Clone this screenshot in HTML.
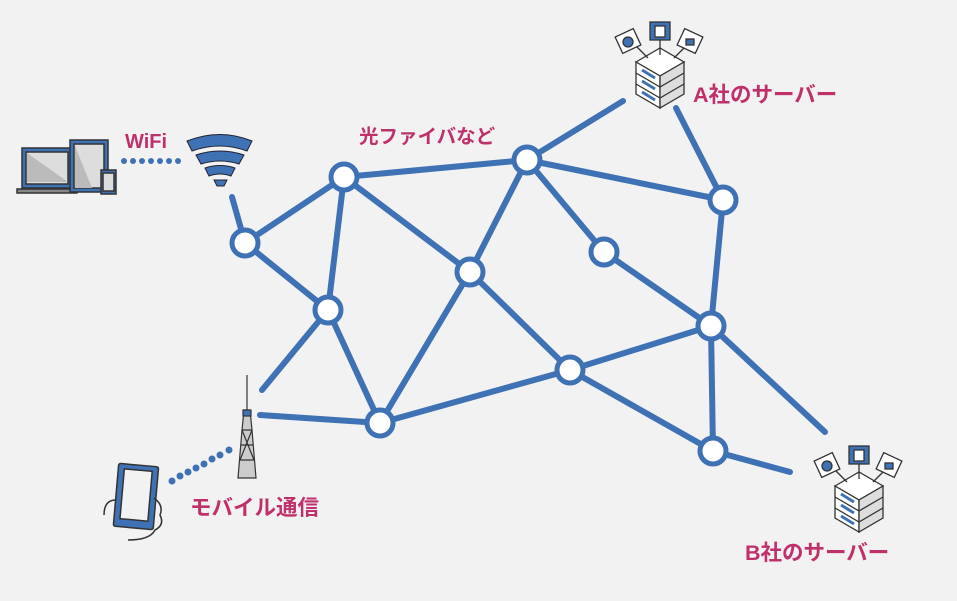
<!DOCTYPE html>
<html><head><meta charset="utf-8"><style>
body{margin:0;background:#f2f2f2;}
svg{display:block}
text{font-family:"Liberation Sans","Noto Sans CJK JP",sans-serif;fill:#c0306a;font-weight:bold}
</style></head><body>
<svg width="957" height="601" viewBox="0 0 957 601" xmlns="http://www.w3.org/2000/svg">
<rect width="957" height="601" fill="#f2f2f2"/>
<g stroke="#3f72b5" stroke-width="6" stroke-linecap="round" fill="none">
<line x1="232" y1="197" x2="245" y2="243"/>
<line x1="245" y1="243" x2="344" y2="177"/>
<line x1="245" y1="243" x2="328" y2="310"/>
<line x1="344" y1="177" x2="328" y2="310"/>
<line x1="344" y1="177" x2="527" y2="160"/>
<line x1="344" y1="177" x2="470" y2="272"/>
<line x1="328" y1="310" x2="380" y2="423"/>
<line x1="328" y1="310" x2="262" y2="390"/>
<line x1="470" y1="272" x2="527" y2="160"/>
<line x1="470" y1="272" x2="380" y2="423"/>
<line x1="470" y1="272" x2="570" y2="370"/>
<line x1="527" y1="160" x2="623" y2="101"/>
<line x1="527" y1="160" x2="723" y2="200"/>
<line x1="527" y1="160" x2="604" y2="252"/>
<line x1="604" y1="252" x2="711" y2="326"/>
<line x1="723" y1="200" x2="676" y2="108"/>
<line x1="723" y1="200" x2="711" y2="326"/>
<line x1="711" y1="326" x2="570" y2="370"/>
<line x1="711" y1="326" x2="713" y2="451"/>
<line x1="711" y1="326" x2="825" y2="432"/>
<line x1="570" y1="370" x2="380" y2="423"/>
<line x1="570" y1="370" x2="713" y2="451"/>
<line x1="380" y1="423" x2="260" y2="415"/>
<line x1="713" y1="451" x2="790" y2="472"/>
</g>
<g fill="#fff" stroke="#3f72b5" stroke-width="5">
<circle cx="245" cy="243" r="13"/><circle cx="344" cy="177" r="13"/><circle cx="328" cy="310" r="13"/>
<circle cx="470" cy="272" r="13"/><circle cx="527" cy="160" r="13"/><circle cx="604" cy="252" r="13"/>
<circle cx="723" cy="200" r="13"/><circle cx="711" cy="326" r="13"/><circle cx="570" cy="370" r="13"/>
<circle cx="380" cy="423" r="13"/><circle cx="713" cy="451" r="13"/>
</g>
<g fill="#3f72b5">
<circle cx="124" cy="161" r="3"/><circle cx="133" cy="161" r="3"/><circle cx="142" cy="161" r="3"/><circle cx="151" cy="161" r="3"/><circle cx="160" cy="161" r="3"/><circle cx="169" cy="161" r="3"/><circle cx="178" cy="161" r="3"/>
<circle cx="172" cy="481" r="3.5"/><circle cx="180" cy="476" r="3.5"/><circle cx="188" cy="472" r="3.5"/><circle cx="196" cy="468" r="3.5"/><circle cx="204" cy="464" r="3.5"/><circle cx="212" cy="459" r="3.5"/><circle cx="220" cy="455" r="3.5"/><circle cx="229" cy="450" r="3.5"/>
</g>
<g fill="#3f72b5" stroke="#223" stroke-width="1">
<path d="M187 141 Q220 128 252 141 L247 151 Q220 141 192 151Z"/>
<path d="M196 155 Q220 147 244 155 L239 164 Q220 158 201 164Z"/>
<path d="M205 168 Q220 163 235 168 L231 176 Q220 172 209 176Z"/>
<path d="M214 180 L227 180 L224 186 L217 186Z"/>
</g>
<g stroke="#333" stroke-width="1.5">
<rect x="22" y="148" width="50" height="40" fill="#3f72b5"/>
<rect x="26" y="152" width="42" height="32" fill="#ddd"/>
<path d="M27 153 L68 182 L27 182Z" fill="#bbb" stroke="none"/>
<rect x="17" y="189" width="60" height="4" fill="#888"/>
<rect x="70" y="140" width="38" height="52" fill="#3f72b5"/>
<rect x="74" y="144" width="30" height="44" fill="#ddd"/>
<path d="M75 146 L92 188 L75 188Z" fill="#bbb" stroke="none"/>
<rect x="101" y="170" width="15" height="24" fill="#3f72b5"/>
<rect x="103" y="173" width="11" height="18" fill="#ddd"/>
</g>
<g stroke="#333" stroke-width="1.2" fill="none">
<line x1="247" y1="375" x2="247" y2="410"/>
<path d="M244 410 L250 410 L252 430 L256 478 L238 478 L242 430Z" fill="#ccc"/>
<rect x="243" y="410" width="8" height="6" fill="#3f72b5"/>
<path d="M242 430 L252 430 M241 445 L253 445 M240 460 L254 460 M242 430 L254 460 M252 430 L240 460"/>
</g>
<g stroke="#333" stroke-width="1.5">
<rect x="116" y="465" width="40" height="63" rx="2" fill="#3f72b5" transform="rotate(5 136 496)"/>
<rect x="122" y="470" width="28" height="50" fill="#f2f2f2" transform="rotate(5 136 496)"/>
<path d="M116 500 Q104 500 104 515 M154 498 Q164 505 160 515 Q165 525 155 530 Q150 540 128 540" fill="none"/>
</g>
<g id="srv" stroke="#333" stroke-width="1.3">
<path d="M636 62 L660 48 L684 62 L660 76Z" fill="#fff"/>
<path d="M636 62 L660 76 L660 108 L636 94Z" fill="#fff"/>
<path d="M684 62 L660 76 L660 108 L684 94Z" fill="#ddd"/>
<path d="M636 73 L660 87 L684 73 M636 84 L660 98 L684 84" fill="none"/>
<path d="M642 70 L655 78 M642 81 L655 89 M642 92 L655 100" stroke="#3f72b5" stroke-width="3"/>
<line x1="660" y1="38" x2="660" y2="55"/><line x1="636" y1="46" x2="648" y2="58"/><line x1="686" y1="46" x2="674" y2="58"/>
<rect x="650" y="22" width="20" height="18" fill="#3f72b5"/>
<rect x="655" y="26" width="10" height="11" fill="#fff"/>
<rect x="618" y="32" width="20" height="18" fill="#fff" transform="rotate(-25 628 41)"/>
<rect x="680" y="32" width="20" height="18" fill="#fff" transform="rotate(25 690 41)"/>
<circle cx="628" cy="42" r="5" fill="#3f72b5"/><rect x="686" y="39" width="8" height="6" fill="#3f72b5"/>
</g>
<use href="#srv" x="199" y="424"/>
<text x="125" y="148" font-size="20">WiFi</text>
<text x="359" y="143" font-size="19.5">光ファイバなど</text>
<text x="693" y="102" font-size="21.5">A社のサーバー</text>
<text x="745" y="560" font-size="21.5">B社のサーバー</text>
<text x="190" y="515" font-size="21.5">モバイル通信</text>
</svg>
</body></html>
